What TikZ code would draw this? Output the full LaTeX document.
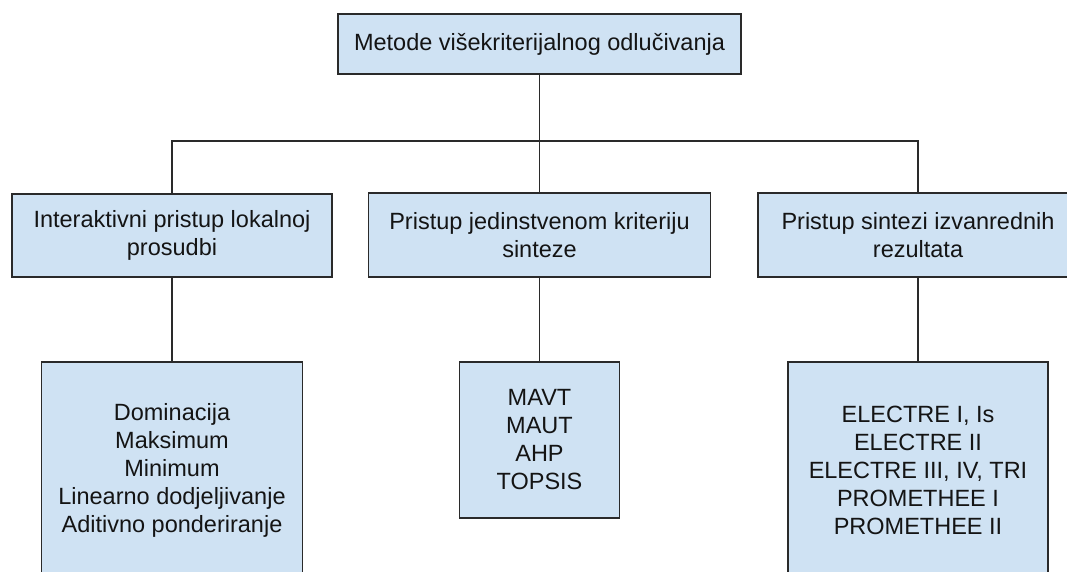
\documentclass[tikz,border=0pt]{standalone}
\usepackage{fontspec}
\setmainfont{Liberation Sans}
\definecolor{boxfill}{HTML}{CFE2F3}
\definecolor{boxline}{HTML}{2A2A2A}
\definecolor{txt}{HTML}{141414}
\begin{document}
\begin{tikzpicture}[x=1pt,y=-1pt,
  box/.style={draw=boxline, fill=boxfill, line width=1.3pt, inner sep=0pt, align=center,
    text=txt, font=\fontsize{23.5}{28}\selectfont},
  link/.style={draw=boxline, line width=1.3pt}]
\useasboundingbox (0,0) rectangle (1067,571);
\clip (0,0) rectangle (1067,571);
\node[box, minimum width=403pt, minimum height=60pt] (top) at (539.5,44) {Metode višekriterijalnog odlučivanja};
\node[box, minimum width=320pt, minimum height=83pt] (L1) at (172,235.5) {Interaktivni pristup lokalnoj\\prosudbi};
\node[box, minimum width=342pt, minimum height=84pt] (M1) at (539.5,235) {Pristup jedinstvenom kriteriju\\sinteze};
\node[box, minimum width=320pt, minimum height=84pt] (R1) at (918,235) {Pristup sintezi izvanrednih\\rezultata};
\node[box, minimum width=261pt, minimum height=216pt] (L2) at (172,470) {Dominacija\\Maksimum\\Minimum\\Linearno dodjeljivanje\\Aditivno ponderiranje};
\node[box, minimum width=160pt, minimum height=156pt] (M2) at (539.5,440) {MAVT\\MAUT\\AHP\\TOPSIS};
\node[box, minimum width=260pt, minimum height=216pt] (R2) at (918,470) {ELECTRE I, Is\\ELECTRE II\\ELECTRE III, IV, TRI\\PROMETHEE I\\PROMETHEE II};
\coordinate (bar) at (539.5,141);
\draw[link] (top.south) -- (M1.north);
\draw[link] (L1.north) -- (L1.north |- bar) -- (R1.north |- bar) -- (R1.north);
\draw[link] (L1.south) -- (L2.north);
\draw[link] (M1.south) -- (M2.north);
\draw[link] (R1.south) -- (R2.north);
\end{tikzpicture}
\end{document}
